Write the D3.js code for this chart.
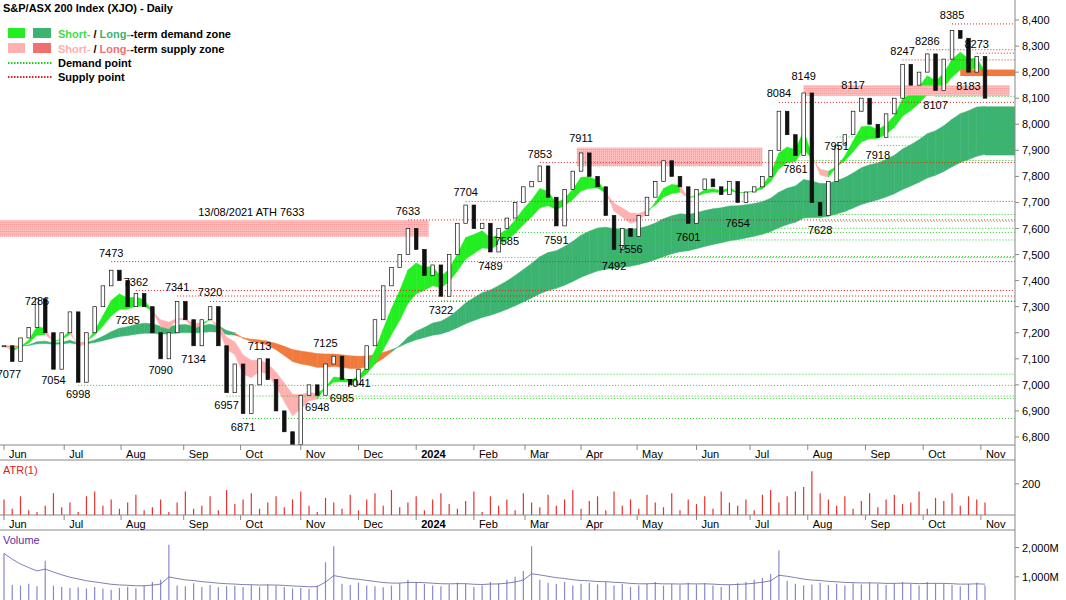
<!DOCTYPE html>
<html><head><meta charset="utf-8">
<script src="https://cdn.jsdelivr.net/npm/d3@7"></script>
<style>body{margin:0;background:#fff}text{font-family:Arial,"Liberation Sans",sans-serif}</style>
</head><body><svg id="chart"></svg>
<script>
// closes, one every ~3 trading days, Jun 2023 - Oct 2024
const closes = [7150,7090,7180,7220,7330,7200,7060,7200,7280,7010,7200,7300,7380,7440,7400,7300,7350,7300,7200,7100,
  7200,7320,7250,7150,7250,7300,7150,6970,7080,6890,7000,7100,7020,6900,6820,6770,6960,7000,6960,7080,
  7110,7020,7000,7060,7150,7250,7380,7450,7500,7600,7520,7420,7460,7340,7500,7620,7690,7600,7620,7510,
  7600,7640,7700,7760,7780,7840,7720,7610,7750,7820,7890,7800,7760,7650,7520,7600,7570,7650,7720,7780,
  7860,7800,7760,7620,7750,7790,7760,7730,7780,7700,7740,7760,7800,7900,8050,7960,7880,8120,7700,7650,
  7780,7920,7960,8050,8100,8000,7950,8040,8100,8230,8150,8200,8270,8130,8250,8360,8330,8200,8260,8100];
const atr = [150,120,160,115,110,130,170,125,140,110,160,175,130,150,120,140,165,115,125,150,
  110,140,175,120,130,160,115,180,135,150,170,120,140,160,125,150,175,130,110,155,
  140,120,165,115,150,170,130,180,125,140,160,115,150,170,135,120,145,175,110,160,
  130,150,115,170,140,125,165,130,150,180,120,145,160,115,175,130,150,120,165,140,
  125,170,115,150,135,160,120,175,140,130,150,115,165,180,140,160,175,190,240,170,
  150,130,160,120,145,170,125,150,165,135,140,175,120,155,145,170,130,160,150,140];
const volume = [1800,720,700,760,680,1550,700,650,620,640,600,650,600,560,620,660,610,700,820,900,
  2100,700,680,780,650,720,640,680,700,650,720,660,740,700,650,600,620,580,700,1500,
  2050,760,720,800,700,680,640,700,780,900,820,760,700,680,740,800,760,650,700,820,
  780,900,1000,1200,2050,900,800,760,820,700,760,800,740,820,700,760,650,700,760,820,
  700,760,720,800,740,780,700,650,720,780,820,900,960,1100,1900,860,760,700,740,800,
  720,760,700,780,740,800,760,720,780,820,760,700,820,780,760,720,680,760,800,700];
const monthLabels = ["Jun","Jul","Aug","Sep","Oct","Nov","Dec","2024","Feb","Mar","Apr","May","Jun","Jul","Aug","Sep","Oct","Nov"];
const monthStarts = [0,7.3,14.2,21.8,28.7,36,43,50,57,63.2,70,76.8,84,90.5,97.5,104.5,111.5,118.5];
const yTicks = [6800,6900,7000,7100,7200,7300,7400,7500,7600,7700,7800,7900,8000,8100,8200,8300,8400];
// swing labels: [index, value]
const highLabels = [[4,7286],[13,7473],[16,7362],[21,7341],[25,7320],[31,7113],[39,7125],[49,7633],[56,7704],[65,7853],[70,7911],[94,8084],[97,8149],[103,8117],[109,8247],[112,8286],[115,8385],[118,8273]];
const lowLabels = [[0.6,7077],[6,7054],[9,6998],[15,7285],[19,7090],[23,7134],[27,6957],[29,6871],[35,6751],[38,6948],[41,6985],[43,7041],[53,7322],[59,7489],[61,7585],[67,7591],[74,7492],[76,7556],[83,7601],[89,7654],[96,7861],[99,7628],[101,7951],[106,7918],[113,8107],[117,8183]];
const supplyLines = [[13,7473],[16,7362],[21,7341],[25,7320],[49,7633],[56,7704],[65,7853],[94,8084],[109,8247],[112,8286],[115,8385],[118,8273]];
const demandLines = [[9,6998],[27,6957],[29,6871],[35,6751],[43,7041],[38,6948],[53,7322],[59,7489],[61,7585],[74,7492],[76,7556],[83,7601],[89,7654],[96,7861],[99,7628],[101,7951],[106,7918],[113,8107]];
// supply zones: [startIdx, endIdx, top, bottom]
const supplyZones = [[-1,51.5,7633,7570],[69.5,92,7911,7840],[97,122,8149,8110]];

const W = 1066, H = 600, axisX = 1015;
const svg = d3.select("#chart").attr("width", W).attr("height", H);
const x = d3.scaleLinear().domain([0, closes.length - 1]).range([4, 985]);
const y = d3.scaleLinear().domain([6750, 8450]).range([450, 7]);
const yAtr = d3.scaleLinear().domain([100, 270]).range([515, 462]);
const yVol = d3.scaleLinear().domain([0, 2500]).range([606, 533]);

function ema(arr, n) { const k = 2/(n+1); let out = [], e = arr[0]; arr.forEach(v => { e = v*k + e*(1-k); out.push(e); }); return out; }
const sFast = ema(closes, 5), sSlow = ema(closes, 10), lFast = ema(closes, 28), lSlow = ema(closes, 60);

const main = svg.append("g");
main.append("defs").append("clipPath").attr("id","clipMain").append("rect").attr("x",0).attr("y",0).attr("width",axisX).attr("height",445);
const plot = main.append("g").attr("clip-path","url(#clipMain)");

function band(a, b, upCol, dnCol) {
  for (let i = 1; i < a.length; i++) {
    const pts = [[x(i-1), y(a[i-1])],[x(i), y(a[i])],[x(i), y(b[i])],[x(i-1), y(b[i-1])]];
    plot.append("path").attr("d", "M" + pts.join("L") + "Z")
      .attr("fill", a[i] >= b[i] ? upCol : dnCol).attr("stroke", a[i] >= b[i] ? upCol : dnCol).attr("stroke-width", 0.5);
  }
}
band(lFast, lSlow, "#3cb371", "#f07a3c");
band(sFast, sSlow, "#22ee22", "#ffb0b0");
const last = closes.length - 1;
[[lFast, lSlow, "#3cb371"], [sFast, sSlow, "#22ee22"]].forEach(([a, b, c]) => {
  plot.append("rect").attr("x", x(last)).attr("width", axisX - x(last))
    .attr("y", y(Math.max(a[last], b[last]))).attr("height", Math.abs(y(a[last]) - y(b[last])) + 1).attr("fill", c);
});
plot.append("rect").attr("x", x(116)).attr("width", axisX - x(116)).attr("y", y(8210)).attr("height", y(8185) - y(8210)).attr("fill", "#f07a3c");

// supply zones
supplyZones.forEach(([s, e, t, b]) => {
  plot.append("rect").attr("x", x(s)).attr("width", x(e) - x(s)).attr("y", y(t)).attr("height", y(b) - y(t)).attr("fill", "#ffc0c0");
  d3.range(b, t, 9).forEach(v => plot.append("line").attr("x1", x(s)).attr("x2", x(e)).attr("y1", y(v)).attr("y2", y(v))
    .attr("stroke", "#f06060").attr("stroke-width", 0.6).attr("stroke-dasharray", "1,1"));
});
plot.append("text").attr("x", x(30)).attr("y", y(7633) - 4).attr("text-anchor","middle").attr("font-size", 11).text("13/08/2021 ATH 7633");

demandLines.forEach(([i, v]) => plot.append("line").attr("x1", x(i)).attr("x2", axisX).attr("y1", y(v)).attr("y2", y(v))
  .attr("stroke", "#22cc22").attr("stroke-width", 1).attr("stroke-dasharray", "1,2"));
supplyLines.forEach(([i, v]) => plot.append("line").attr("x1", x(i)).attr("x2", axisX).attr("y1", y(v)).attr("y2", y(v))
  .attr("stroke", "#e02020").attr("stroke-width", 1).attr("stroke-dasharray", "1,2"));

// candles
closes.forEach((c, i) => {
  const o = i ? closes[i-1] : c;
  plot.append("rect").attr("x", x(i) - 1.8).attr("width", 3.6)
    .attr("y", y(Math.max(o, c))).attr("height", Math.max(1, Math.abs(y(o) - y(c))))
    .attr("fill", c >= o ? "#fff" : "#111").attr("stroke", "#111").attr("stroke-width", 0.7);
});

highLabels.forEach(([i, v]) => plot.append("text").attr("x", x(i)).attr("y", y(v) - 5).attr("text-anchor","middle").attr("font-size", 11).text(v));
lowLabels.forEach(([i, v]) => plot.append("text").attr("x", x(i)).attr("y", y(v) + 13).attr("text-anchor","middle").attr("font-size", 11).text(v));

// title and legend
svg.append("text").attr("x", 3).attr("y", 12).attr("font-size", 11).attr("font-weight","bold").text("S&P/ASX 200 Index (XJO) - Daily");
const lg = svg.append("g").attr("font-size", 11).attr("font-weight","bold");
[["#22ee22","#3cb371",36,"Short- ","Long-","-term demand zone","#44dd44","#3cb371"],["#ffb0b0","#f07070",51,"Short- ","Long-","-term supply zone","#ffb0b0","#f07070"]].forEach(r => {
  lg.append("rect").attr("x", 8).attr("y", r[2] - 8).attr("width", 17).attr("height", 10).attr("fill", r[0]);
  lg.append("rect").attr("x", 33).attr("y", r[2] - 8).attr("width", 18).attr("height", 10).attr("fill", r[1]);
  const t = lg.append("text").attr("x", 58).attr("y", r[2] + 2);
  t.append("tspan").attr("fill", r[6]).text(r[3]);
  t.append("tspan").text("/ ");
  t.append("tspan").attr("fill", r[7]).text(r[4]);
  t.append("tspan").text(r[5]);
});
[["#22cc22",66,"Demand point"],["#e02020",80,"Supply point"]].forEach(r => {
  lg.append("line").attr("x1", 8).attr("x2", 52).attr("y1", r[1]-3).attr("y2", r[1]-3).attr("stroke", r[0]).attr("stroke-width", 2).attr("stroke-dasharray","1.5,1.5");
  lg.append("text").attr("x", 58).attr("y", r[1]+1).text(r[2]);
});

// right axis
svg.append("line").attr("x1", axisX).attr("x2", axisX).attr("y1", 0).attr("y2", H).attr("stroke", "#888");
yTicks.forEach(v => {
  svg.append("line").attr("x1", axisX).attr("x2", axisX + 4).attr("y1", y(v)).attr("y2", y(v)).attr("stroke", "#888");
  svg.append("text").attr("x", 1022).attr("y", y(v) + 4).attr("font-size", 11).text(d3.format(",")(v));
});

// month axes
[[445, 455], [515, 525]].forEach(([top, ty]) => {
  svg.append("line").attr("x1", 0).attr("x2", axisX).attr("y1", top).attr("y2", top).attr("stroke", "#888");
  svg.append("line").attr("x1", 0).attr("x2", axisX).attr("y1", top + 15).attr("y2", top + 15).attr("stroke", "#888");
  monthStarts.forEach((m, k) => {
    const mx = x(m);
    svg.append("line").attr("x1", mx).attr("x2", mx).attr("y1", top).attr("y2", top + 5).attr("stroke", "#888");
    svg.append("text").attr("x", mx + 5).attr("y", ty + 3).attr("font-size", 11).attr("font-weight", m === 50 ? "bold" : "normal").text(monthLabels[k]);
  });
});

// ATR panel
svg.append("text").attr("x", 3).attr("y", 474).attr("font-size", 11).attr("fill", "#e02020").text("ATR(1)");
atr.forEach((v, i) => svg.append("line").attr("x1", x(i)).attr("x2", x(i)).attr("y1", yAtr(100)).attr("y2", yAtr(v)).attr("stroke", "#e83030").attr("stroke-width", 1.2));
svg.append("line").attr("x1", axisX).attr("x2", axisX + 4).attr("y1", yAtr(200)).attr("y2", yAtr(200)).attr("stroke", "#888");
svg.append("text").attr("x", 1022).attr("y", yAtr(200) + 4).attr("font-size", 11).text("200");

// Volume panel
svg.append("text").attr("x", 3).attr("y", 544).attr("font-size", 11).attr("fill", "#6030a0").text("Volume");
volume.forEach((v, i) => svg.append("line").attr("x1", x(i)).attr("x2", x(i)).attr("y1", H).attr("y2", yVol(v)).attr("stroke", "#8888cc").attr("stroke-width", 1.2));
const volAvg = ema(volume, 10);
svg.append("path").datum(volAvg).attr("fill","none").attr("stroke","#6060a0").attr("stroke-width",0.8)
  .attr("d", d3.line().x((d, i) => x(i)).y(d => yVol(d)));
[[2000,"2,000M"],[1000,"1,000M"]].forEach(([v, t]) => {
  svg.append("line").attr("x1", axisX).attr("x2", axisX + 4).attr("y1", yVol(v)).attr("y2", yVol(v)).attr("stroke", "#888");
  svg.append("text").attr("x", 1022).attr("y", yVol(v) + 4).attr("font-size", 11).text(t);
});
</script></body></html>
